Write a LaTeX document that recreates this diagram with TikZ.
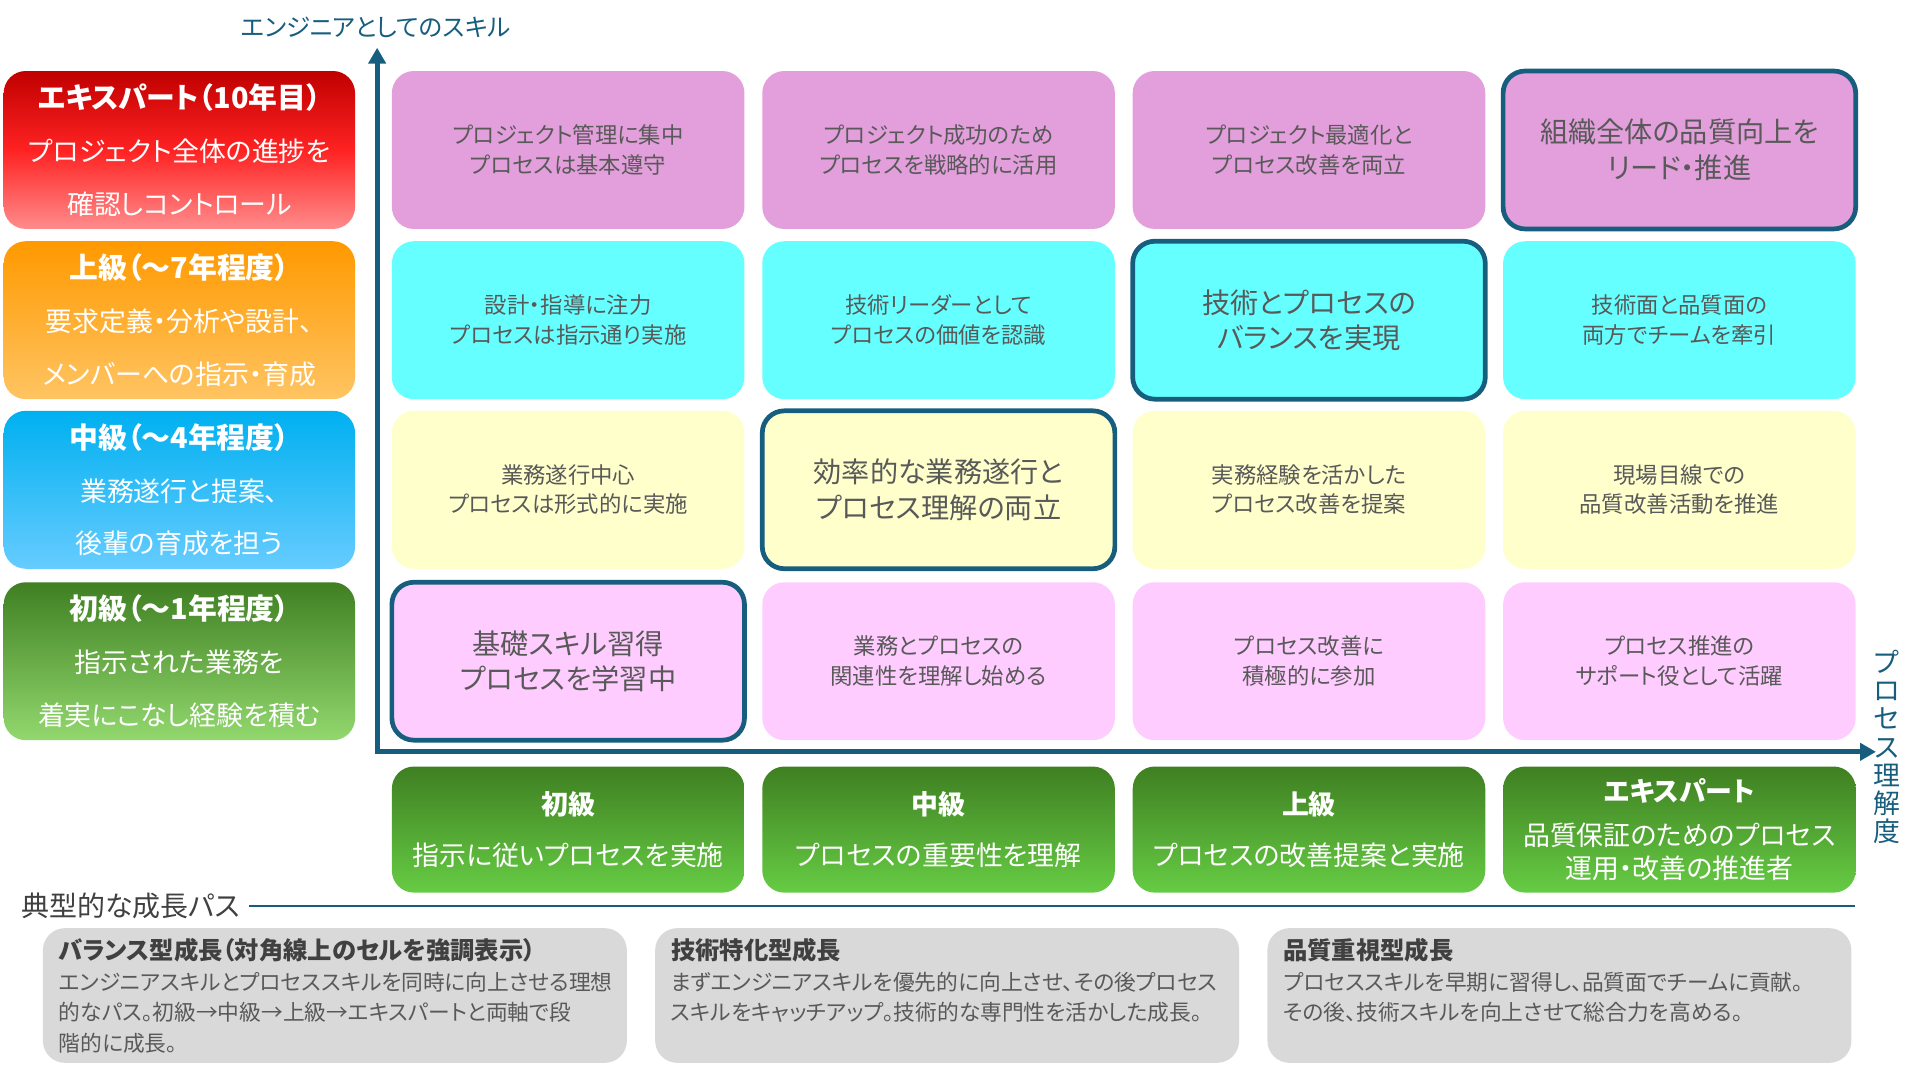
\documentclass[tikz,border=0pt]{standalone}
\usepackage{fontspec}
\setmainfont{Noto Sans CJK JP}[RawFeature={+palt}]
\usetikzlibrary{arrows.meta}

\definecolor{axisblue}{HTML}{175E7E}
\definecolor{txtgray}{HTML}{595959}
\definecolor{txtdark}{HTML}{404040}
\definecolor{rowa}{HTML}{E29FDB}
\definecolor{rowb}{HTML}{66FFFF}
\definecolor{rowc}{HTML}{FFFFCC}
\definecolor{rowd}{HTML}{FFCCFF}
\definecolor{pathgray}{HTML}{D9D9D9}
\definecolor{exdark}{HTML}{C00000}
\definecolor{exmid}{HTML}{FF2222}
\definecolor{exlight}{HTML}{FF8C8C}
\definecolor{addark}{HTML}{FF9900}
\definecolor{adlight}{HTML}{FFC462}
\definecolor{mddark}{HTML}{00B0F0}
\definecolor{mdlight}{HTML}{66CCFF}
\definecolor{grdark}{HTML}{3F7F22}
\definecolor{grlight}{HTML}{66CC44}
\definecolor{bglight}{HTML}{92D86E}

\newcommand{\pathhead}[1]{{\fontsize{11.3}{14.2}\selectfont\bfseries\color{txtdark}#1}}
\newcommand{\levelhead}[1]{{\fontsize{13.4}{24.5}\selectfont\bfseries #1}}

\tikzset{
  cell/.style={rounded corners=0.36cm,minimum width=5.76cm,minimum height=2.58cm,inner sep=0pt,
    align=center,text=txtgray,font=\fontsize{10.4}{13.7}\selectfont},
  hcell/.style={cell,draw=axisblue,line width=2.2pt,font=\fontsize{13.1}{16.5}\selectfont},
  level/.style={rounded corners=0.36cm,minimum width=5.74cm,minimum height=2.58cm,inner sep=0pt,
    align=center,text=white,font=\fontsize{12.5}{24.5}\selectfont},
  procbox/.style={rounded corners=0.36cm,minimum width=5.76cm,minimum height=2.06cm,inner sep=0pt,
    align=center,text=white,top color=grdark,bottom color=grlight,font=\fontsize{12.5}{15.4}\selectfont},
  pathbox/.style={rounded corners=0.36cm,minimum width=9.54cm,minimum height=2.2cm,fill=pathgray},
  pathtext/.style={anchor=north west,inner sep=0pt,align=left,text=txtgray,font=\fontsize{10.1}{14.2}\selectfont},
  skillaxis/.style={draw=axisblue,line width=2.3pt,
    {Triangle[length=0.26cm,width=0.28cm]}-{Triangle[length=0.26cm,width=0.28cm]}}
}

\begin{document}
\begin{tikzpicture}[x=0.02cm,y=0.02cm]
\useasboundingbox (0,0) rectangle (1568,875);

\node[text=axisblue,font=\fontsize{11.4}{11.4}\selectfont] (skilllabel) at (307,853) {エンジニアとしてのスキル};
\coordinate (origin) at (308,261);
\coordinate (ytip) at (308,836);
\coordinate (xtip) at (1532,261);
\draw[skillaxis] (ytip) -- (origin) -- (xtip);
\node[text=axisblue,align=center,inner sep=0pt,font=\fontsize{12.5}{13.1}\selectfont] (proclabel) at (1541,265) {プ\\ロ\\セ\\ス\\理\\解\\度};

\node[level,top color=exdark,bottom color=exlight,middle color=exmid] (lvex) at (146.5,752.5) {\levelhead{エキスパート（10年目）}\\プロジェクト全体の進捗を\\確認しコントロール};
\node[level,top color=addark,bottom color=adlight] (lvad) at (146.5,613.5) {\levelhead{上級（～7年程度）}\\要求定義・分析や設計、\\メンバーへの指示・育成};
\node[level,top color=mddark,bottom color=mdlight] (lvmd) at (146.5,475) {\levelhead{中級（～4年程度）}\\業務遂行と提案、\\後輩の育成を担う};
\node[level,top color=grdark,bottom color=bglight] (lvbg) at (146.5,335) {\levelhead{初級（～1年程度）}\\指示された業務を\\着実にこなし経験を積む};

\foreach \c/\t in {1/{プロジェクト管理に集中\\プロセスは基本遵守},2/{プロジェクト成功のため\\プロセスを戦略的に活用},3/{プロジェクト最適化と\\プロセス改善を両立}}
  \node[cell,fill=rowa] (s1\c) at (161.5+\c*302.5,752.5) {\t};
\foreach \c/\t in {1/{設計・指導に注力\\プロセスは指示通り実施},2/{技術リーダーとして\\プロセスの価値を認識},4/{技術面と品質面の\\両方でチームを牽引}}
  \node[cell,fill=rowb] (s2\c) at (161.5+\c*302.5,613.5) {\t};
\foreach \c/\t in {1/{業務遂行中心\\プロセスは形式的に実施},3/{実務経験を活かした\\プロセス改善を提案},4/{現場目線での\\品質改善活動を推進}}
  \node[cell,fill=rowc] (s3\c) at (161.5+\c*302.5,475) {\t};
\foreach \c/\t in {2/{業務とプロセスの\\関連性を理解し始める},3/{プロセス改善に\\積極的に参加},4/{プロセス推進の\\サポート役として活躍}}
  \node[cell,fill=rowd] (s4\c) at (161.5+\c*302.5,335) {\t};
\node[hcell,fill=rowa] (s14) at (1371.5,752.5) {組織全体の品質向上を\\リード・推進};
\node[hcell,fill=rowb] (s23) at (1069,613.5) {技術とプロセスの\\バランスを実現};
\node[hcell,fill=rowc] (s32) at (766.5,475) {効率的な業務遂行と\\プロセス理解の両立};
\node[hcell,fill=rowd] (s41) at (464,335) {基礎スキル習得\\プロセスを学習中};

\foreach \c/\t in {1/{{\bfseries 初級}\\[8.5pt]指示に従いプロセスを実施},2/{{\bfseries 中級}\\[8.5pt]プロセスの重要性を理解},3/{{\bfseries 上級}\\[8.5pt]プロセスの改善提案と実施},4/{{\bfseries エキスパート}\\[5pt]品質保証のためのプロセス\\運用・改善の推進者}}
  \node[procbox] (pr\c) at (161.5+\c*302.5,197.5) {\t};

\node[anchor=west,inner sep=0pt,text=txtdark,font=\fontsize{13}{13}\selectfont] (pathlabel) at (17,135) {典型的な成長パス};
\coordinate (pathend) at (1515,134);
\draw[axisblue,line width=0.9pt] ([xshift=4pt]pathlabel.east) -- (pathlabel.east -| pathend);

\foreach \c/\xc in {1/273.5,2/773.5,3/1273.5}
  \node[pathbox] (pb\c) at (\xc,62) {};
\node[pathtext] (pt1) at ([shift={(0.26cm,-0.17cm)}]pb1.north west) {\pathhead{バランス型成長（対角線上のセルを強調表示）}\\エンジニアスキルとプロセススキルを同時に向上させる理想\\的なパス。初級→中級→上級→エキスパートと両軸で段\\階的に成長。};
\node[pathtext] (pt2) at ([shift={(0.26cm,-0.17cm)}]pb2.north west) {\pathhead{技術特化型成長}\\まずエンジニアスキルを優先的に向上させ、その後プロセス\\スキルをキャッチアップ。技術的な専門性を活かした成長。};
\node[pathtext] (pt3) at ([shift={(0.26cm,-0.17cm)}]pb3.north west) {\pathhead{品質重視型成長}\\プロセススキルを早期に習得し、品質面でチームに貢献。\\その後、技術スキルを向上させて総合力を高める。};
\end{tikzpicture}
\end{document}
